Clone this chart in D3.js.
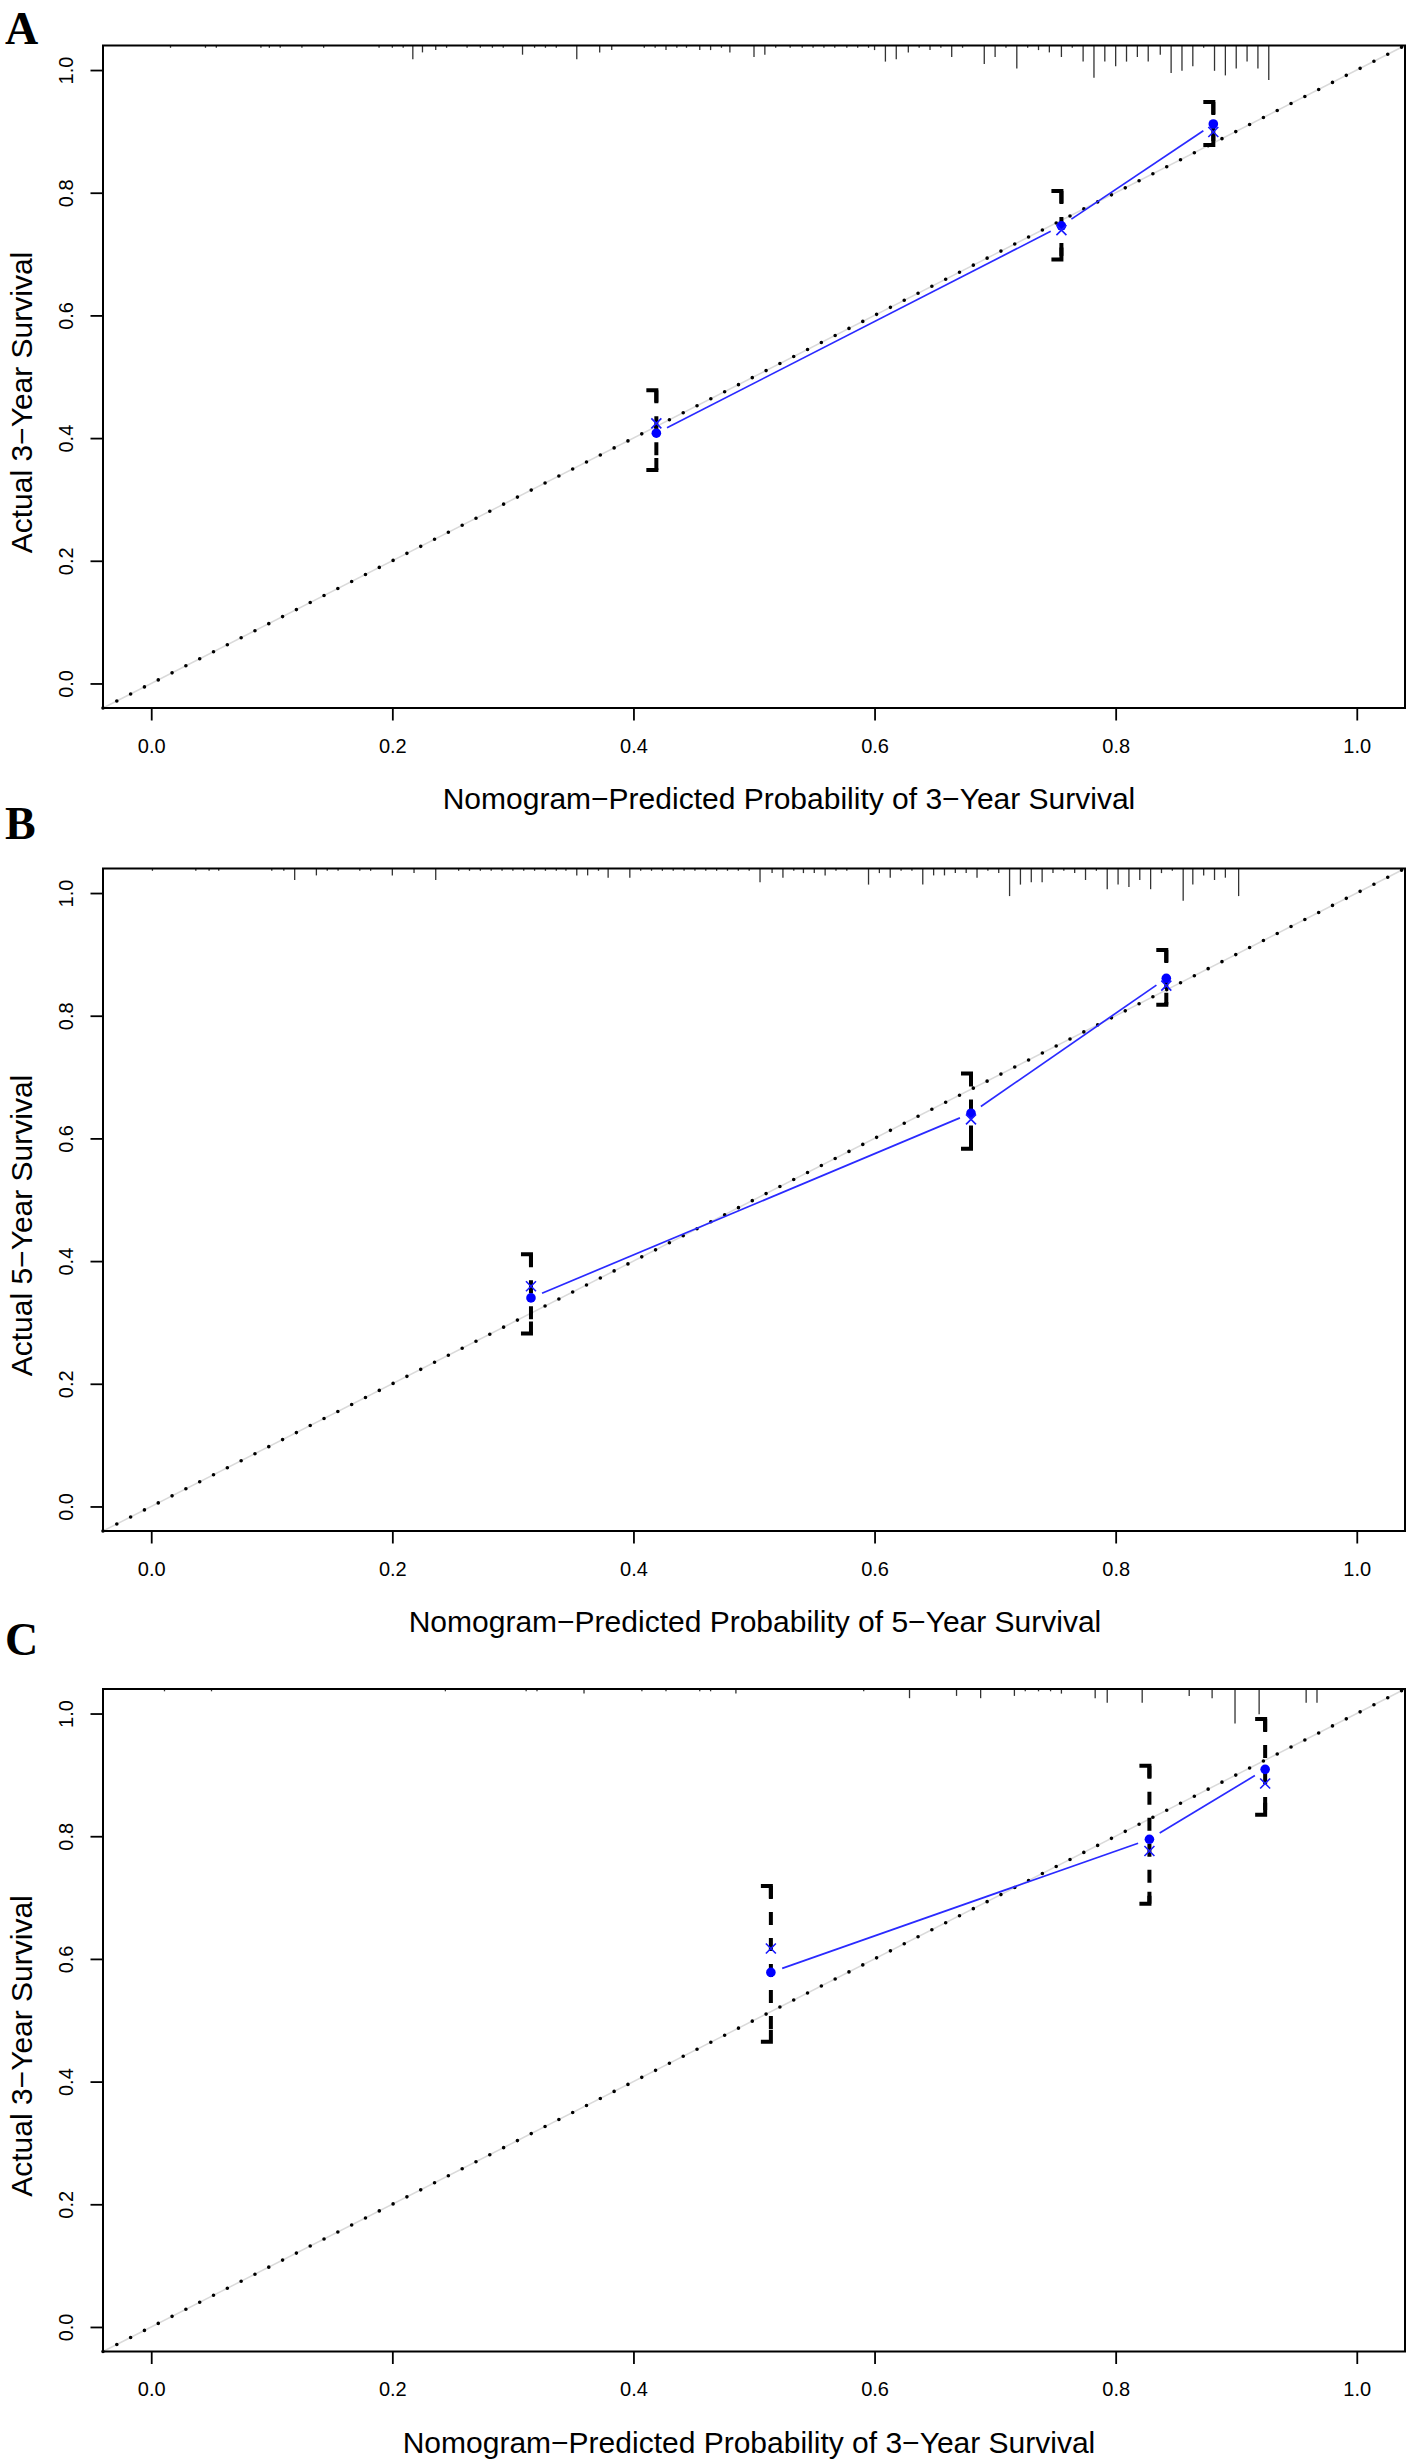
<!DOCTYPE html>
<html>
<head>
<meta charset="utf-8">
<script src="https://cdn.jsdelivr.net/npm/d3@7"></script>
<style>
  body { margin: 0; background: #fff; }
  text { font-family: "Liberation Sans", Arial, sans-serif; fill: #000; }
</style>
</head>
<body>
<svg id="chart" width="1410" height="2461"></svg>
<script>
// axis ticks, shared by all three panels
var xTicks = [0, 0.2, 0.4, 0.6, 0.8, 1.0];
var yTicks = [0, 0.2, 0.4, 0.6, 0.8, 1.0];

var letters = ["A", "B", "C"];
var yTitles = ["Actual 3\u2212Year Survival", "Actual 5\u2212Year Survival", "Actual 3\u2212Year Survival"];
var xTitles = ["Nomogram\u2212Predicted Probability of 3\u2212Year Survival",
               "Nomogram\u2212Predicted Probability of 5\u2212Year Survival",
               "Nomogram\u2212Predicted Probability of 3\u2212Year Survival"];

// A: 3-year
var predA = [0.419, 0.755, 0.881];
var obsA  = [0.408, 0.746, 0.912];
var corrA = [0.424, 0.739, 0.899];
var loA   = [0.348, 0.691, 0.878];
var hiA   = [0.478, 0.803, 0.948];

// B: 5-year
var predB = [0.315, 0.680, 0.842];
var obsB  = [0.340, 0.641, 0.861];
var corrB = [0.359, 0.631, 0.849];
var loB   = [0.282, 0.583, 0.818];
var hiB   = [0.411, 0.706, 0.907];

// C: 3-year (validation)
var predC = [0.514, 0.828, 0.924];
var obsC  = [0.578, 0.795, 0.909];
var corrC = [0.617, 0.776, 0.886];
var loC   = [0.465, 0.690, 0.835];
var hiC   = [0.719, 0.915, 0.991];

// distribution of predictions along the top (value, count)
var rugAx = [0.016,0.045,0.054,0.091,0.098,0.107,0.125,0.143,0.189,0.200,0.209,0.217,0.225,0.236,0.245,0.262,0.273,0.283,0.292,0.308,0.318,0.327,0.336,0.353,0.372,0.382,0.409,0.418,0.427,0.436,0.444,0.455,0.464,0.473,0.480,0.500,0.509,0.518,0.530,0.540,0.549,0.558,0.567,0.577,0.586,0.595,0.600,0.609,0.618,0.628,0.637,0.646,0.655,0.664,0.673,0.691,0.700,0.709,0.718,0.727,0.736,0.745,0.755,0.764,0.773,0.782,0.791,0.800,0.809,0.818,0.827,0.837,0.846,0.855,0.864,0.873,0.882,0.891,0.900,0.909,0.918,0.927];
var rugAn = [1,1,1,1,1,1,1,1,1,1,1,6,3,2,1,1,1,1,1,4,1,1,1,6,3,2,1,1,2,1,1,2,2,1,3,5,4,1,1,1,1,1,1,1,1,1,2,7,6,3,1,2,1,5,1,8,5,1,10,1,2,3,5,1,7,14,7,9,7,5,7,4,12,11,9,1,11,13,10,7,10,15];

var rugBx = [0.001,0.037,0.048,0.056,0.100,0.110,0.119,0.137,0.146,0.155,0.173,0.182,0.200,0.218,0.236,0.255,0.264,0.273,0.282,0.291,0.300,0.309,0.318,0.327,0.336,0.344,0.353,0.362,0.371,0.379,0.397,0.406,0.415,0.424,0.433,0.442,0.451,0.460,0.469,0.478,0.487,0.496,0.505,0.515,0.524,0.533,0.541,0.550,0.559,0.568,0.577,0.595,0.604,0.613,0.622,0.631,0.640,0.649,0.658,0.667,0.676,0.685,0.694,0.703,0.712,0.721,0.730,0.739,0.748,0.757,0.766,0.775,0.784,0.793,0.802,0.811,0.820,0.829,0.838,0.847,0.856,0.864,0.873,0.882,0.891,0.902];
var rugBn = [1,1,1,1,1,1,5,3,1,1,1,1,3,2,5,1,1,1,1,1,1,1,1,1,1,1,3,3,1,4,4,1,1,1,1,1,1,1,1,1,1,1,6,2,4,1,2,2,3,1,1,7,2,4,1,1,7,3,3,2,2,4,1,2,12,7,6,6,2,1,2,5,1,9,7,8,5,9,2,1,14,7,3,5,4,12];

var rugCx = [0.011,0.050,0.244,0.311,0.320,0.359,0.407,0.427,0.455,0.464,0.485,0.591,0.629,0.668,0.688,0.716,0.725,0.736,0.746,0.755,0.783,0.793,0.822,0.861,0.880,0.899,0.919,0.958,0.967];
var rugCn = [1,1,1,1,1,2,1,1,1,1,2,1,4,3,4,3,1,1,1,2,4,6,6,3,4,15,11,6,6];

var panels = [
  {pred: predA, obs: obsA, corr: corrA, lo: loA, hi: hiA, rx: rugAx, rn: rugAn},
  {pred: predB, obs: obsB, corr: corrB, lo: loB, hi: hiB, rx: rugBx, rn: rugBn},
  {pred: predC, obs: obsC, corr: corrC, lo: loC, hi: hiC, rx: rugCx, rn: rugCn}
];

// layout
var boxL = 103, boxR = 1405, boxH = 662.5;
var boxTops = [45.5, 868.5, 1689];
var letterBase = [44, 839, 1655];
var xTitleX = [789, 755, 749];

var svg = d3.select("#chart");

var x = d3.scaleLinear().domain([-0.04, 1.04]).range([boxL, boxR]);
var rugLen = d3.scaleLinear().domain([0, 15]).range([0, 34.5]);

panels.forEach(function(p, i) {
  var top = boxTops[i], bottom = top + boxH;
  var y = d3.scaleLinear().domain([-0.04, 1.04]).range([bottom, top]);
  var g = svg.append("g").classed("panel", true);

  // panel letter
  svg.append("text")
    .attr("x", 5)
    .attr("y", letterBase[i])
    .style("font-family", "'Liberation Serif', 'Times New Roman', serif")
    .style("font-weight", "bold")
    .style("font-size", "46px")
    .text(letters[i]);

  // ideal line
  var diag = [-0.04, 1.04];
  var diagLine = d3.line().x(d => x(d)).y(d => y(d));
  g.append("path")
    .attr("d", diagLine(diag))
    .attr("stroke", "#dadada")
    .attr("stroke-width", 1.5)
    .attr("fill", "none");
  g.append("path")
    .attr("d", diagLine(diag))
    .attr("stroke", "#000")
    .attr("stroke-width", 3.6)
    .attr("stroke-linecap", "round")
    .attr("stroke-dasharray", "0 15.5")
    .attr("stroke-dashoffset", -15.5)
    .attr("fill", "none");

  // rug / prediction distribution
  g.selectAll(".rug")
    .data(p.rx)
    .enter()
    .append("line")
    .classed("rug", true)
    .attr("x1", d => x(d))
    .attr("x2", d => x(d))
    .attr("y1", top)
    .attr("y2", (d, k) => top + rugLen(p.rn[k]))
    .attr("stroke", "#333")
    .attr("stroke-width", 1.3);

  // error bars
  p.pred.forEach(function(px, k) {
    var cx = x(px), yt = y(p.hi[k]), yb = y(p.lo[k]);
    g.append("line")
      .attr("x1", cx).attr("x2", cx)
      .attr("y1", yt).attr("y2", yb)
      .attr("stroke", "#000")
      .attr("stroke-width", 4)
      .attr("stroke-dasharray", "13 13");
    g.append("path")
      .attr("d", "M" + (cx - 10) + "," + yt + "H" + (cx + 2) + "M" + cx + "," + yt + "V" + (yt + 12))
      .attr("stroke", "#000").attr("stroke-width", 4).attr("fill", "none");
    g.append("path")
      .attr("d", "M" + (cx - 10) + "," + yb + "H" + (cx + 2) + "M" + cx + "," + yb + "V" + (yb - 12))
      .attr("stroke", "#000").attr("stroke-width", 4).attr("fill", "none");
  });

  // blue line, broken around each point
  var gap = 12;
  for (var k = 0; k < p.pred.length - 1; k++) {
    var x1 = x(p.pred[k]), y1 = y(p.obs[k]);
    var x2 = x(p.pred[k + 1]), y2 = y(p.obs[k + 1]);
    var len = Math.hypot(x2 - x1, y2 - y1);
    var ux = (x2 - x1) / len, uy = (y2 - y1) / len;
    g.append("line")
      .attr("x1", x1 + ux * gap).attr("y1", y1 + uy * gap)
      .attr("x2", x2 - ux * gap).attr("y2", y2 - uy * gap)
      .attr("stroke", "#2a2aff")
      .attr("stroke-width", 1.7);
  }

  g.selectAll(".dot")
    .data(p.pred)
    .enter()
    .append("circle")
    .classed("dot", true)
    .attr("cx", d => x(d))
    .attr("cy", (d, k) => y(p.obs[k]))
    .attr("r", 4.8)
    .attr("fill", "#0000ff");

  g.selectAll(".cross")
    .data(p.pred)
    .enter()
    .append("path")
    .classed("cross", true)
    .attr("d", (d, k) => {
      var cx = x(d), cy = y(p.corr[k]), s = 5;
      return "M" + (cx - s) + "," + (cy - s) + "L" + (cx + s) + "," + (cy + s) +
             "M" + (cx - s) + "," + (cy + s) + "L" + (cx + s) + "," + (cy - s);
    })
    .attr("stroke", "#1a1aff")
    .attr("stroke-width", 1.6)
    .attr("fill", "none");

  // box
  g.append("rect")
    .attr("x", boxL).attr("y", top)
    .attr("width", boxR - boxL).attr("height", boxH)
    .attr("fill", "none")
    .attr("stroke", "#000")
    .attr("stroke-width", 2);

  // axes
  var xAxis = d3.axisBottom(x).tickValues(xTicks).tickSize(12.5).tickPadding(18).tickFormat(d3.format(".1f"));
  var gx = g.append("g")
    .attr("transform", "translate(0," + bottom + ")")
    .call(xAxis)
    .classed("axes", true);
  gx.select(".domain").remove();
  gx.selectAll("line").attr("stroke-width", 1.8);
  gx.selectAll("text").style("font-size", "20px").style("font-family", "'Liberation Sans', Arial, sans-serif");

  var yAxis = d3.axisLeft(y).tickValues(yTicks).tickSize(12.5).tickFormat(d3.format(".1f"));
  var gy = g.append("g")
    .attr("transform", "translate(" + boxL + ",0)")
    .call(yAxis)
    .classed("axes", true);
  gy.select(".domain").remove();
  gy.selectAll("line").attr("stroke-width", 1.8);
  gy.selectAll("text")
    .attr("x", 0)
    .attr("dy", null)
    .attr("text-anchor", "middle")
    .attr("transform", "translate(-30.3,0) rotate(-90)")
    .style("font-size", "20px")
    .style("font-family", "'Liberation Sans', Arial, sans-serif");

  // titles
  g.append("text")
    .attr("x", xTitleX[i])
    .attr("y", bottom + 101)
    .attr("text-anchor", "middle")
    .style("font-size", "30px")
    .text(xTitles[i]);

  g.append("text")
    .attr("transform", "translate(32," + (top + 357) + ") rotate(-90)")
    .attr("text-anchor", "middle")
    .style("font-size", "30px")
    .text(yTitles[i]);
});
</script>
</body>
</html>
